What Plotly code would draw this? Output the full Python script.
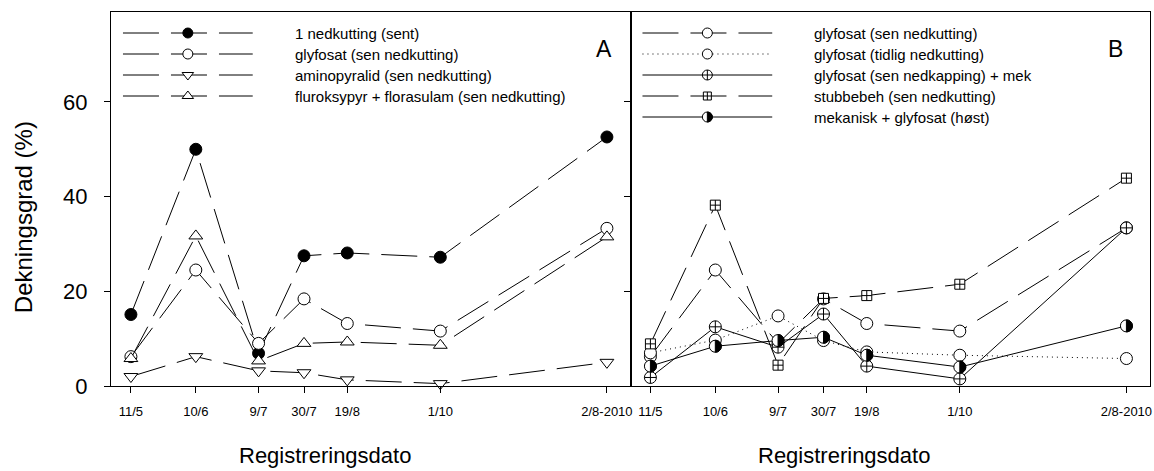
import plotly.graph_objects as go

# ---------------- data ----------------
dates = ["11/5", "10/6", "9/7", "30/7", "19/8", "1/10", "2/8-2010"]
# day-of-year positions (the 2010 date sits on a broken axis after 1/10)
x_day = [131, 161, 190, 211, 231, 274, 351]

# Panel A
a_1nedkutting = [15.1, 50.0, 6.9, 27.5, 28.1, 27.2, 52.6]
a_glyfosat = [6.2, 24.5, 9.0, 18.4, 13.2, 11.6, 33.3]
a_aminopyralid = [2.0, 6.2, 3.2, 2.8, 1.3, 0.5, 5.0]
a_fluroksypyr = [5.8, 31.7, 5.3, 9.0, 9.3, 8.6, 31.5]

# Panel B
b_glyfosat_sen = [6.2, 24.5, 9.0, 18.4, 13.2, 11.6, 33.4]
b_glyfosat_tidlig = [7.0, 9.7, 14.8, 9.6, 7.2, 6.5, 5.8]
b_glyfosat_mek = [1.8, 12.5, 8.2, 15.2, 4.2, 1.5, 33.4]
b_stubbebeh = [8.9, 38.2, 4.4, 18.5, 19.1, 21.5, 43.9]
b_mekanisk = [4.2, 8.4, 9.6, 10.3, 6.5, 4.0, 12.7]

y_ticks = [0, 20, 40, 60]

# ---------------- styles ----------------
LONG = "36px,12px"
DOT = "1px,4px"
FONT = "Liberation Sans, Arial, sans-serif"

series_a = [
    ("1 nedkutting (sent)", a_1nedkutting, LONG, "circle", "black", False),
    ("glyfosat (sen nedkutting)", a_glyfosat, LONG, "circle", "white", False),
    ("aminopyralid (sen nedkutting)", a_aminopyralid, LONG, "triangle-down", "white", False),
    ("fluroksypyr + florasulam (sen nedkutting)", a_fluroksypyr, LONG, "triangle-up", "white", False),
]
series_b = [
    ("glyfosat (sen nedkutting)", b_glyfosat_sen, LONG, "circle", "white", False),
    ("glyfosat (tidlig nedkutting)", b_glyfosat_tidlig, DOT, "circle", "white", False),
    ("glyfosat (sen nedkapping) + mek", b_glyfosat_mek, "solid", "circle-cross", "white", False),
    ("stubbebeh (sen nedkutting)", b_stubbebeh, LONG, "square-cross", "white", False),
    ("mekanisk + glyfosat (høst)", b_mekanisk, "solid", "circle", "white", True),
]

# plot area in pixels
PL, PR, PT, PB = 111, 1152, 12, 386
W, H = 1154, 471


def px(x):
    return (x - PL) / (PR - PL)


def py(y):
    return (PB - y) / (PB - PT)


def sym_size(sym):
    if sym.startswith("triangle"):
        return 12
    if sym.startswith("square"):
        return 10
    return 12


def half_path(r):
    k = 0.5523 * r
    return (f"M0,{-r} C{k:.2f},{-r} {r},{-k:.2f} {r},0 "
            f"C{r},{k:.2f} {k:.2f},{r} 0,{r} Z")


fig = go.Figure()
shapes = []

for xa, ya, series in (("x", "y", series_a), ("x2", "y2", series_b)):
    for name, vals, dash, sym, fill, half in series:
        fig.add_trace(go.Scatter(
            x=x_day, y=vals, mode="lines+markers", xaxis=xa, yaxis=ya,
            line=dict(color="black", width=1, dash=dash),
            marker=dict(symbol=sym, size=sym_size(sym), color=fill,
                        line=dict(color="black", width=1)),
            showlegend=False, cliponaxis=False, name=name,
        ))
        if half:
            for xv, yv in zip(x_day, vals):
                shapes.append(dict(
                    type="path", xref=xa, yref=ya, xsizemode="pixel",
                    ysizemode="pixel", xanchor=xv, yanchor=yv,
                    path=half_path(6), fillcolor="black",
                    line=dict(color="black", width=1), layer="above"))

# ---------------- custom legends (drawn on a hidden pixel axis) ----------------
annotations = []
row0, row_step = 33, 21
for panel_left, series in ((PL, series_a), (PL + (PR - PL) / 2, series_b)):
    x0 = panel_left + 12
    x1 = panel_left + 142
    xm = (x0 + x1) / 2
    xt = panel_left + 182
    for i, (name, vals, dash, sym, fill, half) in enumerate(series):
        yr = row0 + i * row_step
        fig.add_trace(go.Scatter(
            x=[x0, xm, x1], y=[yr, yr, yr], mode="lines", xaxis="x3", yaxis="y3",
            line=dict(color="black", width=1, dash=dash), showlegend=False,
            hoverinfo="skip", cliponaxis=False))
        fig.add_trace(go.Scatter(
            x=[xm], y=[yr], mode="markers", xaxis="x3", yaxis="y3",
            marker=dict(symbol=sym, size=sym_size(sym) - 2, color=fill,
                        line=dict(color="black", width=1)),
            showlegend=False, hoverinfo="skip", cliponaxis=False))
        if half:
            shapes.append(dict(
                type="path", xref="x3", yref="y3", xsizemode="pixel",
                ysizemode="pixel", xanchor=xm, yanchor=yr, path=half_path(5),
                fillcolor="black", line=dict(color="black", width=1),
                layer="above"))
        annotations.append(dict(
            x=px(xt), y=py(yr), xref="paper", yref="paper", text=name,
            showarrow=False, xanchor="left", yanchor="middle",
            font=dict(family=FONT, size=15, color="black")))

# panel letters
annotations.append(dict(x=px(605), y=py(34), xref="paper", yref="paper", text="A",
                        showarrow=False, font=dict(family=FONT, size=23, color="black")))
annotations.append(dict(x=px(1127), y=py(34), xref="paper", yref="paper", text="B",
                        showarrow=False, font=dict(family=FONT, size=23, color="black")))
# axis titles
for cx in (325, 845):
    annotations.append(dict(x=px(cx), y=py(455), xref="paper", yref="paper",
                            text="Registreringsdato", showarrow=False,
                            xanchor="center", yanchor="middle",
                            font=dict(family=FONT, size=22, color="black")))
annotations.append(dict(x=px(23), y=py(217), xref="paper", yref="paper",
                        text="Dekningsgrad (%)", textangle=-90, showarrow=False,
                        xanchor="center", yanchor="middle",
                        font=dict(family=FONT, size=24, color="black")))

x_range = [121.8, 361.9]
y_range = [0, 79]
xcommon = dict(range=x_range, tickvals=x_day, ticktext=dates, ticks="outside",
               ticklen=6, tickwidth=1, tickcolor="black", showline=True,
               linecolor="black", linewidth=1, mirror=True, showgrid=False,
               zeroline=False, tickangle=0,
               tickfont=dict(family=FONT, size=13, color="black"),
               ticklabelstandoff=7)
ycommon = dict(range=y_range, tickvals=y_ticks, ticks="outside", ticklen=6,
               tickwidth=1, tickcolor="black", showline=True, linecolor="black",
               linewidth=1, mirror=True, showgrid=False, zeroline=False,
               tickfont=dict(family=FONT, size=22, color="black"))

fig.update_layout(
    width=W, height=H,
    margin=dict(l=PL, r=W - PR, t=PT, b=H - PB, pad=0),
    paper_bgcolor="white", plot_bgcolor="rgba(0,0,0,0)",
    showlegend=False,
    xaxis=dict(domain=[0, 0.5], anchor="y", **xcommon),
    yaxis=dict(domain=[0, 1], anchor="x", ticklabelstandoff=12, **ycommon),
    xaxis2=dict(domain=[0.5, 1], anchor="y2", **xcommon),
    yaxis2=dict(domain=[0, 1], anchor="x2", showticklabels=False, **ycommon),
    xaxis3=dict(domain=[0, 1], anchor="y3", range=[PL, PR], visible=False,
                fixedrange=True),
    yaxis3=dict(domain=[0, 1], anchor="x3", range=[PB, PT], visible=False,
                fixedrange=True),
    shapes=shapes, annotations=annotations,
)

fig.write_html("out.html")
